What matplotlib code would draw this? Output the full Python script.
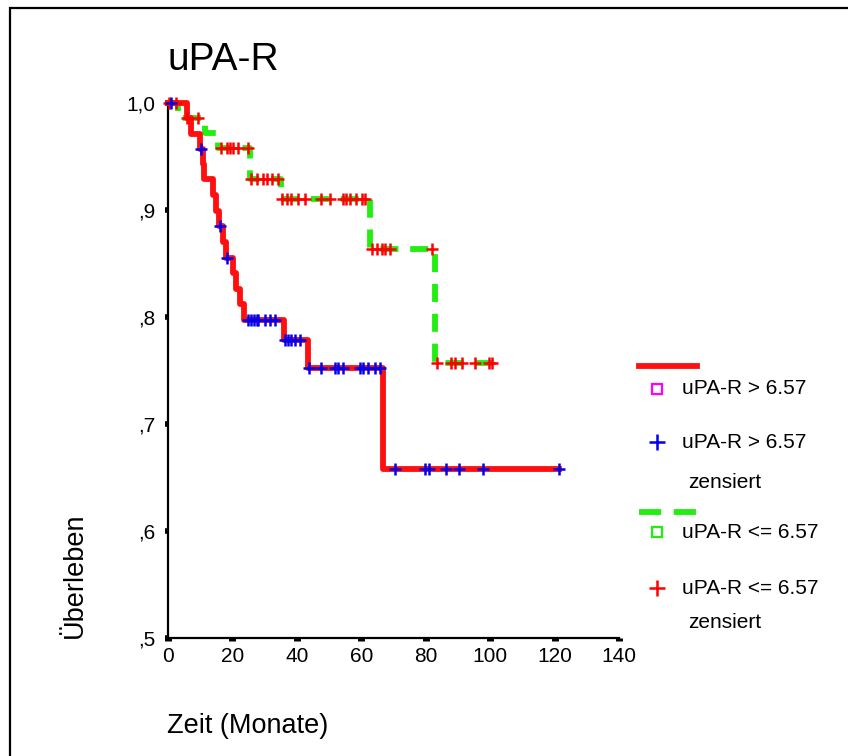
import numpy as np
import matplotlib
matplotlib.use("Agg")
import matplotlib.pyplot as plt
from matplotlib.lines import Line2D
from matplotlib.patches import Rectangle

plt.rcParams["font.family"] = ["Liberation Sans", "DejaVu Sans"]
plt.rcParams["lines.scale_dashes"] = False

# uPA-R > 6.57 : event times (months) and survival after each step
high_t = [0, 6.0, 7.0, 10.0, 10.8, 11.2, 14.0, 14.8, 15.8, 17.1, 18.0,
          20.2, 21.2, 22.4, 23.6, 36.0, 43.5, 66.8]
high_s = [1.0, 0.986, 0.971, 0.957, 0.943, 0.929, 0.914, 0.899, 0.885,
          0.870, 0.855, 0.841, 0.826, 0.812, 0.797, 0.778, 0.752, 0.658]
high_end = 121.5
high_cens = [0.8, 10.2, 16.1, 18.2, 24.9, 25.9, 26.7, 27.5, 28.0, 30.1,
             31.6, 33.2, 36.3, 37.3, 38.3, 39.4, 40.9, 43.8, 47.6, 51.8,
             52.8, 54.3, 59.5, 60.6, 62.1, 64.2, 65.7, 70.4, 79.7, 81.0,
             86.2, 90.3, 97.7, 121.3]

# uPA-R <= 6.57
low_t = [0, 3.2, 11.5, 15.6, 25.4, 35.0, 62.6, 83.0]
low_s = [1.0, 0.986, 0.972, 0.958, 0.929, 0.910, 0.863, 0.757]
low_end = 103.0
low_cens = [0.3, 2.6, 5.8, 9.4, 16.6, 18.2, 19.3, 20.3, 21.8, 24.9,
            25.9, 27.5, 29.5, 30.6, 32.4, 34.2, 35.5, 36.8, 38.3, 40.4,
            42.5, 47.6, 50.2, 54.3, 55.4, 56.4, 58.5, 60.1, 61.1, 63.2,
            64.8, 66.4, 67.4, 68.9, 81.9, 83.4, 88.0, 89.0, 91.2, 95.4,
            99.5, 100.5]

x_ticks = [0, 20, 40, 60, 80, 100, 120, 140]
y_ticks = [0.5, 0.6, 0.7, 0.8, 0.9, 1.0]
y_labels = [",5", ",6", ",7", ",8", ",9", "1,0"]


def surv_at(times, surv, t):
    idx = np.searchsorted(times, t, side="right") - 1
    return np.asarray(surv)[idx]


W, H = 848, 756
fig = plt.figure(figsize=(W / 100, H / 100), dpi=100)


def fx(px):
    return px / W


def fy(py):
    return 1 - py / H


ax = fig.add_axes([fx(168), fy(637.5), fx(619) - fx(168), fy(103) - fy(637.5)])

# green dashed curve first, red solid on top
ax.step(low_t + [low_end], low_s + [low_s[-1]], where="post",
        color="#22ee11", lw=4.2, dashes=(13, 8.5), clip_on=False, zorder=2)
ax.step(high_t + [high_end], high_s + [high_s[-1]], where="post",
        color="#ff1010", lw=4.2, clip_on=False, zorder=3)

ax.plot(low_cens, surv_at(low_t, low_s, low_cens), ls="none", marker="+",
        ms=9, mew=1.8, color="#ff0000", clip_on=False, zorder=4)
ax.plot(high_cens, surv_at(high_t, high_s, high_cens), ls="none", marker="+",
        ms=9, mew=1.8, color="#0000ee", clip_on=False, zorder=5)

ax.set_xlim(0, 140)
ax.set_ylim(0.5, 1.0)
ax.set_xticks(x_ticks)
ax.set_yticks(y_ticks)
ax.set_yticklabels(y_labels)
for s in ["top", "right"]:
    ax.spines[s].set_visible(False)
for s in ["left", "bottom"]:
    ax.spines[s].set_linewidth(1.6)
ax.tick_params(axis="x", direction="out", length=2.5, width=5, pad=4.5,
               labelsize=15)
ax.tick_params(axis="y", direction="out", length=2.5, width=4, pad=6.5,
               labelsize=15)

fig.text(fx(167), fy(70), "uPA-R", fontsize=28, ha="left", va="baseline")
fig.text(fx(167), fy(726), "Zeit (Monate)", fontsize=19.5, ha="left",
         va="center")
fig.text(fx(75), fy(638), "Überleben", fontsize=19.5, rotation=90,
         ha="center", va="bottom")

# legend, drawn by hand like the SPSS layout
fig.add_artist(Line2D([fx(639), fx(697)], [fy(366), fy(366)],
                      color="#ff1010", lw=4.2))
fig.add_artist(Line2D([fx(639), fx(697)], [fy(512), fy(512)],
                      color="#22ee11", lw=4.2, dashes=(16, 9)))
legend_items = [
    (389, "s", "#ff00ff", "uPA-R > 6.57", None),
    (442, "+", "#0000ee", "uPA-R > 6.57", 482),
    (532, "s", "#22ee11", "uPA-R <= 6.57", None),
    (588, "+", "#ff0000", "uPA-R <= 6.57", 623),
]
for py, mk, col, label, sub in legend_items:
    if mk == "s":
        fig.add_artist(Line2D([fx(657)], [fy(py)], marker="s", ms=6.5,
                              mfc="white", mec=col, mew=1.6, ls="none"))
    else:
        fig.add_artist(Line2D([fx(657)], [fy(py)], marker="+", ms=11,
                              mew=1.8, color=col, ls="none"))
    fig.text(fx(682), fy(py), label, fontsize=15, ha="left", va="center")
    if sub:
        fig.text(fx(688), fy(sub), "zensiert", fontsize=15, ha="left",
                 va="center")

# outer frame (only left and top edges fall inside the picture)
fig.add_artist(Rectangle((fx(9.5), -0.2), 2, fy(7.5) + 0.2,
                         transform=fig.transFigure, fill=False,
                         ec="black", lw=1.6, clip_on=False))

fig.savefig("out.png", dpi=100)
